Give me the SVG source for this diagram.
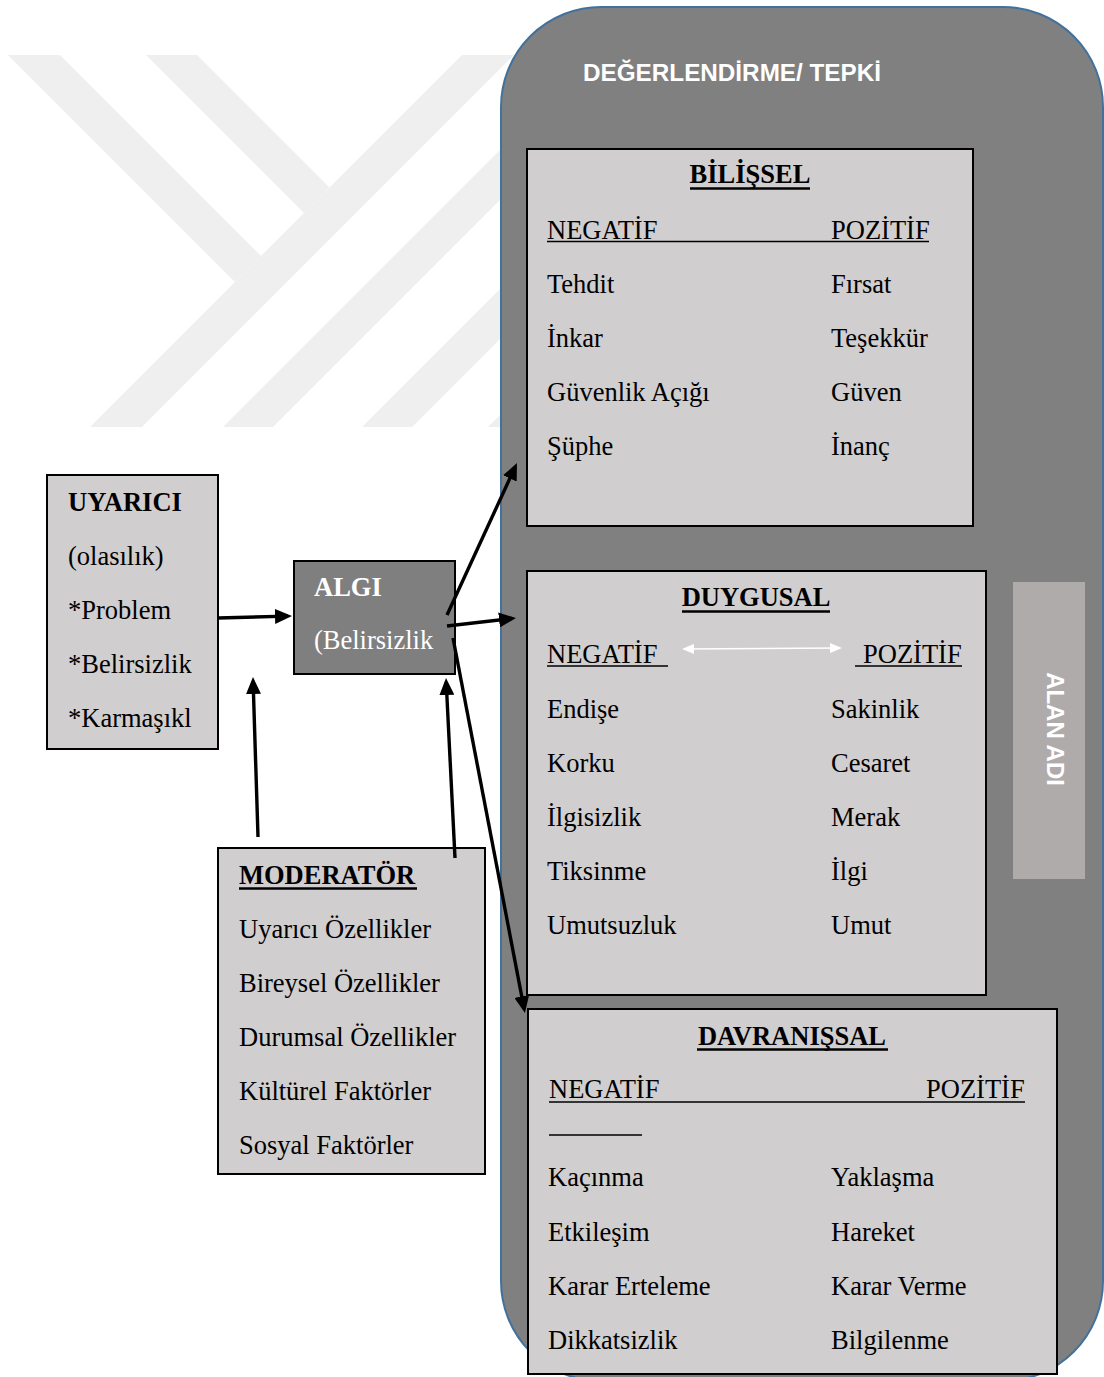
<svg xmlns="http://www.w3.org/2000/svg" width="1104" height="1377" viewBox="0 0 1104 1377">
<defs>
<style>
.t{font-family:"Liberation Serif","Times New Roman",serif;font-size:26.5px;fill:#000}
.b{font-weight:bold}
.w{fill:#fff}
.box{fill:#d0cece;stroke:#000;stroke-width:2}
.ul{stroke:#000;stroke-width:1.6}
.ulb{stroke:#000;stroke-width:2.6}
.con{stroke:#000;stroke-width:3.4;fill:none;marker-end:url(#ah)}
.wm{fill:#efefef}
</style>
<marker id="ah" markerUnits="userSpaceOnUse" markerWidth="17" markerHeight="15" refX="13" refY="7.5" orient="auto" viewBox="0 0 17 15">
<path d="M0,0 L17,7.5 L0,15 z" fill="#000"/>
</marker>
<marker id="wh" markerUnits="userSpaceOnUse" markerWidth="12" markerHeight="10" refX="10" refY="5" orient="auto-start-reverse" viewBox="0 0 12 10">
<path d="M0,0 L12,5 L0,10 z" fill="#fff"/>
</marker>
</defs>

<g id="watermark">
<polygon class="wm" points="8,55 60,55 261,256 235,282"/>
<polygon class="wm" points="146,55 197,55 329.5,187.5 304,213"/>
<polygon class="wm" points="462,55 514,55 142,427 90,427"/>
<polygon class="wm" points="595,55 645,55 273,427 223,427"/>
<polygon class="wm" points="734,55 784,55 412,427 362,427"/>
<polygon class="wm" points="860,55 910,55 538,427 488,427"/>
</g>

<g id="degerlendirme">
<rect x="501" y="7" width="602" height="1374" rx="100" ry="100" fill="#808080" stroke="#41719c" stroke-width="2"/>
<text x="583" y="81" font-family="'Liberation Sans',Arial,sans-serif" font-size="24" font-weight="bold" fill="#fff" textLength="298" lengthAdjust="spacingAndGlyphs">DEĞERLENDİRME/ TEPKİ</text>
</g>

<g id="alan-adi">
<rect x="1013" y="582" width="72" height="297" fill="#afabab"/>
<text transform="translate(1047,729) rotate(90)" text-anchor="middle" font-family="'Liberation Sans',Arial,sans-serif" font-size="24" font-weight="bold" fill="#fff">ALAN ADI</text>
</g>

<g id="bilissel">
<rect class="box" x="527" y="149" width="446" height="377"/>
<text class="t b" x="750" y="183" text-anchor="middle">BİLİŞSEL</text>
<line class="ulb" x1="690" y1="188.5" x2="810" y2="188.5"/>
<text class="t" x="547" y="239">NEGATİF</text>
<text class="t" x="831" y="239">POZİTİF</text>
<line class="ul" x1="547" y1="241.5" x2="929" y2="241.5"/>
<text class="t" x="547" y="293">Tehdit</text><text class="t" x="831" y="293">Fırsat</text>
<text class="t" x="547" y="347">İnkar</text><text class="t" x="831" y="347">Teşekkür</text>
<text class="t" x="547" y="401">Güvenlik Açığı</text><text class="t" x="831" y="401">Güven</text>
<text class="t" x="547" y="455">Şüphe</text><text class="t" x="831" y="455">İnanç</text>
</g>

<g id="duygusal">
<rect class="box" x="527" y="571" width="459" height="424"/>
<text class="t b" x="756" y="606" text-anchor="middle">DUYGUSAL</text>
<line class="ulb" x1="682" y1="611.5" x2="830" y2="611.5"/>
<text class="t" x="547" y="663">NEGATİF</text>
<line class="ul" x1="547" y1="666" x2="668" y2="666"/>
<text class="t" x="863" y="663">POZİTİF</text>
<line class="ul" x1="855" y1="666" x2="962" y2="666"/>
<line x1="684" y1="649" x2="840" y2="648" stroke="#fff" stroke-width="1.6" marker-start="url(#wh)" marker-end="url(#wh)"/>
<text class="t" x="547" y="718">Endişe</text><text class="t" x="831" y="718">Sakinlik</text>
<text class="t" x="547" y="772">Korku</text><text class="t" x="831" y="772">Cesaret</text>
<text class="t" x="547" y="826">İlgisizlik</text><text class="t" x="831" y="826">Merak</text>
<text class="t" x="547" y="880">Tiksinme</text><text class="t" x="831" y="880">İlgi</text>
<text class="t" x="547" y="934">Umutsuzluk</text><text class="t" x="831" y="934">Umut</text>
</g>

<g id="davranissal">
<rect class="box" x="528" y="1009" width="529" height="365"/>
<text class="t b" x="792" y="1045" text-anchor="middle">DAVRANIŞSAL</text>
<line class="ulb" x1="697" y1="1049.5" x2="888" y2="1049.5"/>
<text class="t" x="549" y="1098">NEGATİF</text>
<text class="t" x="926" y="1098">POZİTİF</text>
<line class="ul" x1="549" y1="1102" x2="1025" y2="1102"/>
<line class="ul" x1="549" y1="1135" x2="642" y2="1135"/>
<text class="t" x="548" y="1186">Kaçınma</text><text class="t" x="831" y="1186">Yaklaşma</text>
<text class="t" x="548" y="1241">Etkileşim</text><text class="t" x="831" y="1241">Hareket</text>
<text class="t" x="548" y="1295">Karar Erteleme</text><text class="t" x="831" y="1295">Karar Verme</text>
<text class="t" x="548" y="1349">Dikkatsizlik</text><text class="t" x="831" y="1349">Bilgilenme</text>
</g>

<g id="uyarici">
<rect class="box" x="47" y="475" width="171" height="274"/>
<text class="t b" x="68" y="511">UYARICI</text>
<text class="t" x="68" y="565">(olasılık)</text>
<text class="t" x="68" y="619">*Problem</text>
<text class="t" x="68" y="673">*Belirsizlik</text>
<text class="t" x="68" y="727">*Karmaşıkl</text>
</g>

<g id="algi">
<rect x="294" y="561" width="161" height="113" fill="#7f7f7f" stroke="#000" stroke-width="2"/>
<text class="t b w" x="314" y="596">ALGI</text>
<text class="t w" x="314" y="649">(Belirsizlik</text>
</g>

<g id="moderator">
<rect class="box" x="218" y="848" width="267" height="326"/>
<text class="t b" x="239" y="884">MODERATÖR</text>
<line class="ulb" x1="239" y1="888.5" x2="417" y2="888.5"/>
<text class="t" x="239" y="938">Uyarıcı Özellikler</text>
<text class="t" x="239" y="992">Bireysel Özellikler</text>
<text class="t" x="239" y="1046">Durumsal Özellikler</text>
<text class="t" x="239" y="1100">Kültürel Faktörler</text>
<text class="t" x="239" y="1154">Sosyal Faktörler</text>
</g>

<g id="connectors">
<line class="con" x1="218" y1="618" x2="288" y2="616.1"/>
<line class="con" x1="258" y1="837" x2="253.1" y2="681"/>
<line class="con" x1="455" y1="858" x2="446.2" y2="682"/>
<line class="con" x1="447" y1="615" x2="515.3" y2="466.6"/>
<line class="con" x1="447" y1="626" x2="512" y2="618.5"/>
<line class="con" x1="453" y1="638" x2="524.2" y2="1009.1"/>
</g>
</svg>
